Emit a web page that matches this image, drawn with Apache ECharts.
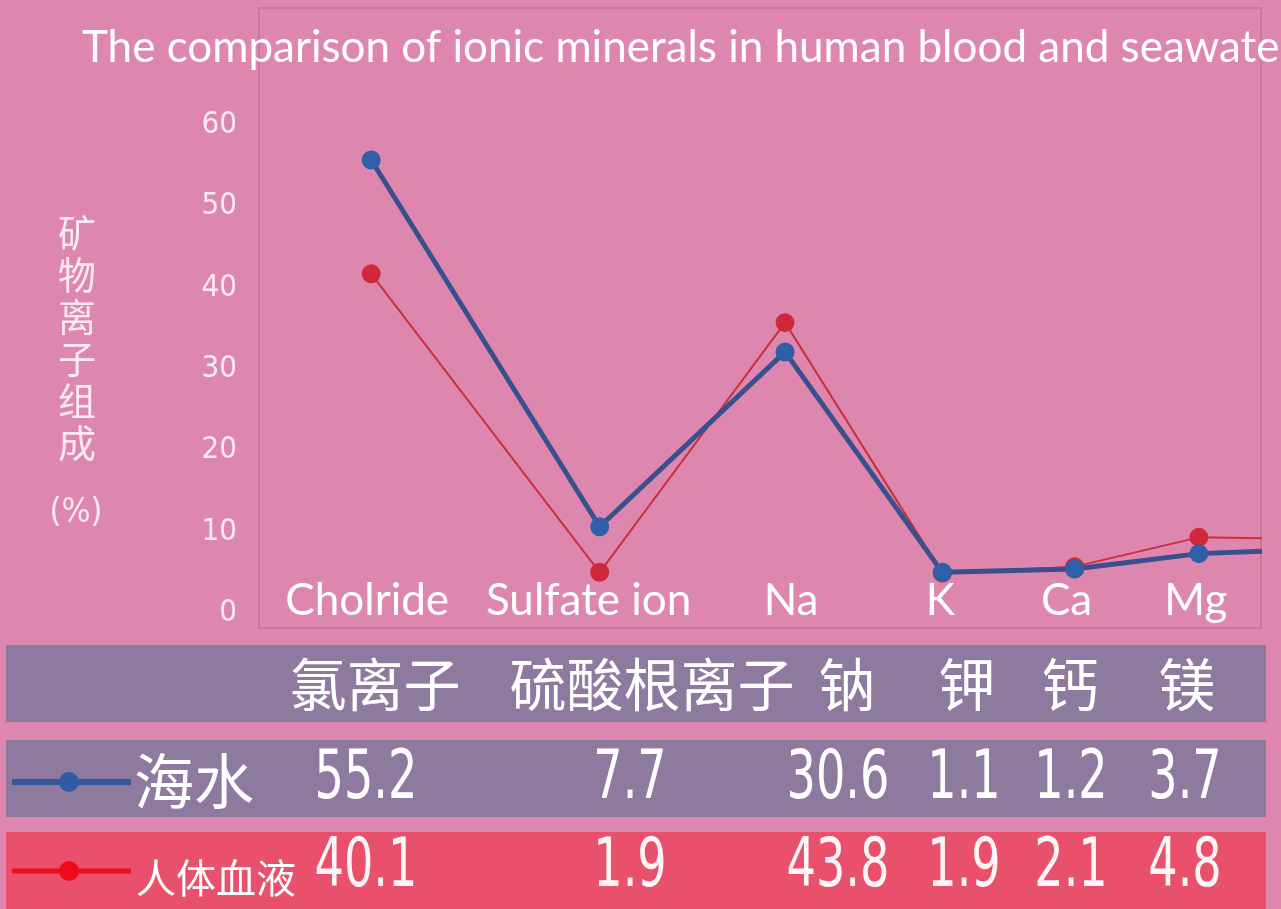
<!DOCTYPE html>
<html lang="en">
<head>
<meta charset="UTF-8">
<title>Ionic minerals</title>
<style>
  html, body { margin: 0; padding: 0; background: #de87ae; }
  #main { width: 1281px; height: 909px; }
</style>
</head>
<body>
<script src="https://cdn.jsdelivr.net/npm/echarts@6/dist/echarts.min.js"></script>
<div id="main"></div>
<script type="text/javascript">
    // categories
    var catNames = ['Cholride', 'Sulfate ion', 'Na', 'K', 'Ca', 'Mg'];
    var cnNames = ['氯离子', '硫酸根离子', '钠', '钾', '钙', '镁'];
    // where each category sits along the x axis (0-100), last one is the tail end of the line
    var catPos = [11.1, 33.9, 52.4, 68.1, 81.3, 93.7, 100];
    var labelPos = [10.7, 32.8, 53.0, 67.9, 80.5, 93.4];
    // plotted line values (%)
    var seawaterLine = [55.7, 10.6, 32.1, 5.0, 5.4, 7.3, 7.6];
    var bloodLine = [41.7, 5.0, 35.7, 4.9, 5.7, 9.3, 9.2];
    // table values
    var seawaterTable = ['55.2', '7.7', '30.6', '1.1', '1.2', '3.7'];
    var bloodTable = ['40.1', '1.9', '43.8', '1.9', '2.1', '4.8'];
    var yTicks = [0, 10, 20, 30, 40, 50, 60];

    // table layout
    var cnX = [375, 652, 847, 967, 1070, 1187];
    var numX = [366, 630, 838, 964, 1071, 1185];

    function pairs(vals) {
        var out = [];
        for (var i = 0; i < vals.length; i++) {
            var p = {value: [catPos[i], vals[i]]};
            if (i === vals.length - 1) p.symbol = 'none';
            out.push(p);
        }
        return out;
    }

    var graphics = [
        // plot frame
        {type: 'rect', shape: {x: 259, y: 8, width: 1002, height: 620}, style: {fill: 'none', stroke: '#c27c9e', lineWidth: 2}, z: 0},
        // y axis name
        {type: 'text', x: 77, y: 212, style: {text: '矿\n物\n离\n子\n组\n成', fontSize: 38, lineHeight: 42, fill: '#fbe9f1', align: 'center', fontFamily: 'Noto Sans CJK SC'}},
        {type: 'text', x: 76, y: 513, style: {text: '(%)', fontSize: 34, fill: '#fbe9f1', align: 'center', verticalAlign: 'middle', fontFamily: 'DejaVu Sans Condensed, DejaVu Sans'}},
        // table rows
        {type: 'rect', shape: {x: 6, y: 645, width: 1260, height: 77}, style: {fill: '#8e7a9e'}},
        {type: 'rect', shape: {x: 6, y: 740, width: 1260, height: 77}, style: {fill: '#8e7a9e'}},
        {type: 'rect', shape: {x: 6, y: 832, width: 1260, height: 77}, style: {fill: '#e8506c'}},
        // legend marks
        {type: 'line', shape: {x1: 12, y1: 782, x2: 131, y2: 782}, style: {stroke: '#35589c', lineWidth: 6}},
        {type: 'circle', shape: {cx: 69, cy: 782, r: 10}, style: {fill: '#2f5aa6'}},
        {type: 'line', shape: {x1: 12, y1: 871, x2: 131, y2: 871}, style: {stroke: '#e8101e', lineWidth: 5}},
        {type: 'circle', shape: {cx: 69, cy: 871, r: 10}, style: {fill: '#ee0a1a'}},
        {type: 'text', x: 194, y: 781, style: {text: '海水', fontSize: 60, fill: '#ffffff', align: 'center', verticalAlign: 'middle', fontFamily: 'Noto Sans CJK SC'}},
        {type: 'text', x: 216, y: 878, style: {text: '人体血液', fontSize: 40, fill: '#ffffff', align: 'center', verticalAlign: 'middle', fontFamily: 'Noto Sans CJK SC'}}
    ];
    for (var i = 0; i < cnNames.length; i++) {
        graphics.push({type: 'text', x: cnX[i], y: 684, style: {text: cnNames[i], fontSize: 57, fill: '#ffffff', align: 'center', verticalAlign: 'middle', fontFamily: 'Noto Sans CJK SC'}});
        graphics.push({type: 'text', x: numX[i], y: 780, scaleX: 0.68, style: {text: seawaterTable[i], fontSize: 68, fill: '#ffffff', align: 'center', verticalAlign: 'middle', fontFamily: 'DejaVu Sans'}});
        graphics.push({type: 'text', x: numX[i], y: 868, scaleX: 0.68, style: {text: bloodTable[i], fontSize: 68, fill: '#fff4f6', align: 'center', verticalAlign: 'middle', fontFamily: 'DejaVu Sans'}});
    }

    var option = {
        backgroundColor: '#de87ae',
        animation: false,
        title: {
            text: 'The comparison of ionic minerals in human blood and seawater',
            left: 77,
            top: 21,
            textStyle: {color: '#ffffff', fontSize: 44, fontWeight: 'normal', fontFamily: 'Lato'}
        },
        grid: {left: 260, right: 19, top: 125, bottom: 296},
        xAxis: {
            type: 'value',
            min: 0,
            max: 100,
            splitLine: {show: false},
            axisLine: {show: false},
            axisTick: {show: false},
            axisLabel: {
                customValues: labelPos,
                margin: -34,
                color: '#ffffff',
                fontSize: 44,
                fontFamily: 'Lato',
                formatter: function (v) {
                    var k = labelPos.indexOf(v);
                    return k >= 0 ? catNames[k] : '';
                }
            }
        },
        yAxis: {
            type: 'value',
            min: 0,
            max: 60,
            interval: 10,
            splitLine: {show: false},
            axisLine: {show: false},
            axisTick: {show: false},
            axisLabel: {
                margin: 23,
                color: '#fbe9f1',
                fontSize: 31,
                fontFamily: 'DejaVu Sans Condensed, Liberation Sans Narrow, DejaVu Sans',
                customValues: yTicks
            }
        },
        series: [{
            name: '人体血液',
            type: 'line',
            data: pairs(bloodLine),
            symbol: 'circle',
            symbolSize: 19,
            lineStyle: {color: '#c8303f', width: 2},
            itemStyle: {color: '#d0283a'},
            z: 2
        }, {
            name: '海水',
            type: 'line',
            data: pairs(seawaterLine),
            symbol: 'circle',
            symbolSize: 19,
            lineStyle: {color: '#3a4f8e', width: 5},
            itemStyle: {color: '#2f5fa8'},
            z: 3
        }],
        graphic: graphics
    };

    var myChart = echarts.init(document.getElementById('main'));
    myChart.setOption(option);
</script>
</body>
</html>
